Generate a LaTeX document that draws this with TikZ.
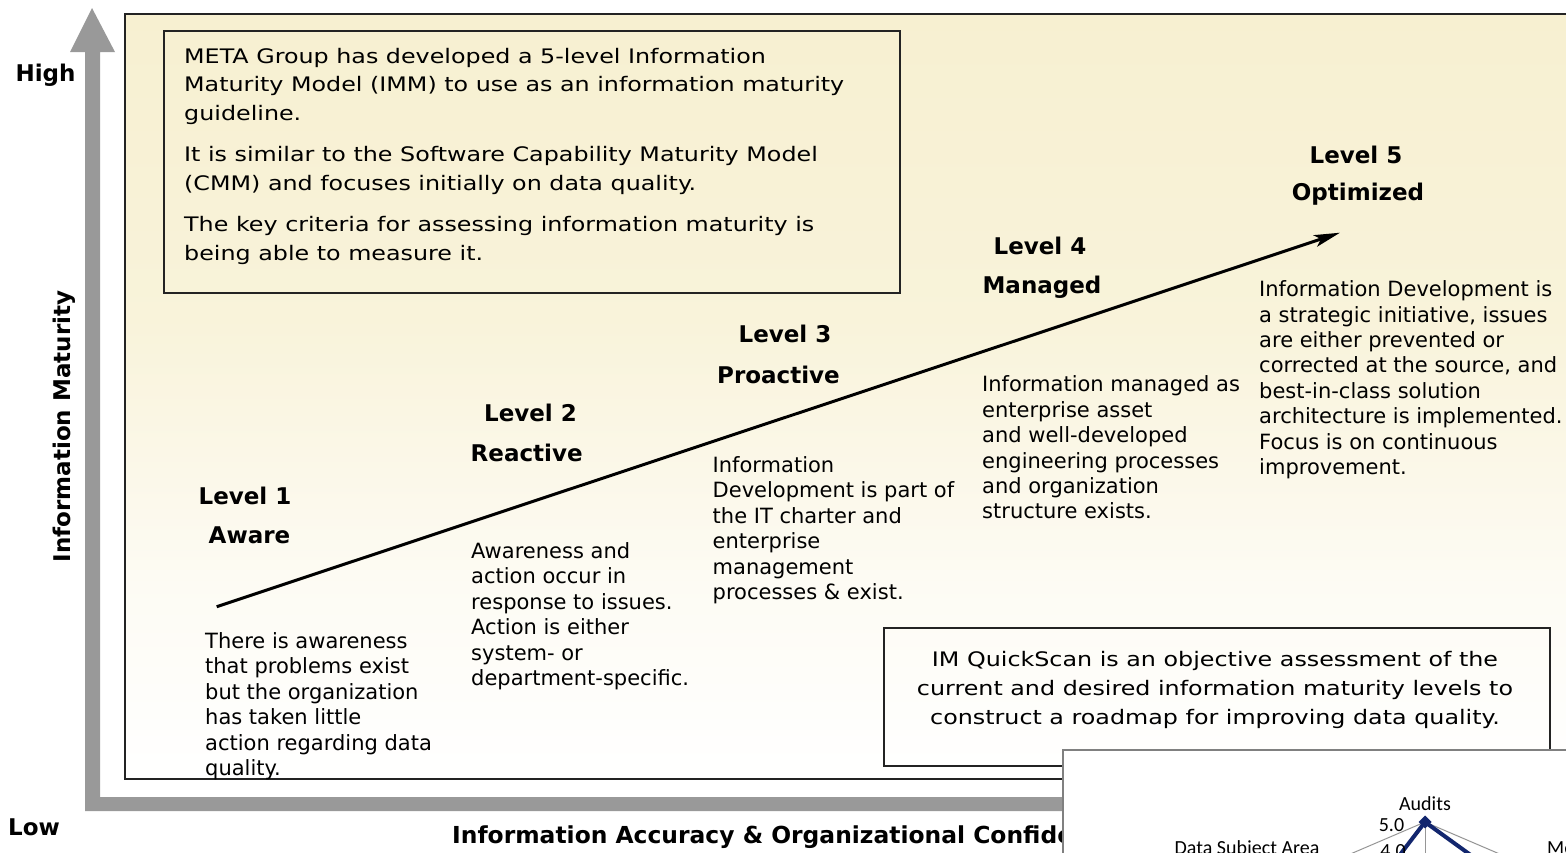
\documentclass[tikz,border=0pt]{standalone}
\usepackage{fontspec}
\setmainfont{DejaVu Sans}
\newfontfamily\widefont[FakeStretch=1.19]{DejaVu Sans}
\newfontfamily\calfont{Carlito}
\usetikzlibrary{arrows.meta}
\definecolor{axisgray}{RGB}{153,153,153}
\definecolor{cream}{RGB}{247,240,209}
\definecolor{framedark}{RGB}{35,35,35}
\definecolor{navy}{RGB}{18,38,110}
\definecolor{gridgray}{RGB}{150,150,150}
\definecolor{boxgray}{RGB}{128,128,128}
\pgfdeclareverticalshading{bgshade}{100bp}{color(0bp)=(white); color(25bp)=(white); color(38bp)=(cream!25!white); color(55bp)=(cream!80!white); color(75bp)=(cream); color(100bp)=(cream)}
\begin{document}
\begin{tikzpicture}[x=1pt,y=-1pt,
  heading/.style={font=\fontsize{23}{27}\selectfont\bfseries, anchor=base, inner sep=0},
  desc/.style={font=\fontsize{21}{25.4}\selectfont, align=left, anchor=north west, inner sep=0},
  widetext/.style={font=\widefont\fontsize{20}{28.3}\selectfont, inner sep=0},
  axislabel/.style={font=\fontsize{23}{27}\selectfont\bfseries, inner sep=0},
  radarlabel/.style={font=\calfont\fontsize{20}{24}\selectfont, anchor=base, inner sep=0},
  framebox/.style={draw=framedark, line width=1.5, anchor=north west, inner sep=0},
]
\useasboundingbox (0,0) rectangle (1566,852);
\clip (0,0) rectangle (1566,852);
\fill[white] (0,0) rectangle (1566,852);

% axes
\fill[axisgray] (92,8) -- (115,52) -- (100,52) -- (100,797) -- (1566,797) -- (1566,811)
  -- (85,811) -- (85,52) -- (70,52) -- cycle;

% main panel
\shade[shading=bgshade] (125,14) rectangle (1590,779);
\draw[framedark, line width=2] (125,14) rectangle (1590,779);

% axis labels
\node[axislabel, anchor=base] (high) at (45.5,81.7) {High};
\node[axislabel, anchor=base] (low) at (34,835) {Low};
\node[axislabel, anchor=base, rotate=90] (ylab) at (70,426.5) {Information Maturity};
\node[axislabel, anchor=base west, font=\fontsize{23.4}{27}\selectfont\bfseries] (xlab) at (452,843) {Information Accuracy \& Organizational Confidence};

% META box
\node[framebox, minimum width=736, minimum height=262] (metabox) at (163,30) {};
\node[widetext, align=left, anchor=north west] (metatext) at (184,48.1)
  {META Group has developed a 5-level Information\\
   Maturity Model (IMM) to use as an information maturity\\
   guideline.\\[13.4pt]
   It is similar to the Software Capability Maturity Model\\
   (CMM) and focuses initially on data quality.\\[13.4pt]
   The key criteria for assessing information maturity is\\
   being able to measure it.};

% maturity arrow
\coordinate (arrstart) at (216.7,606.7);
\coordinate (arrend) at (1340,232.7);
\draw[line width=3, -{Stealth[length=26,width=12,inset=6]}] (arrstart) -- (arrend);

% level headings
\node[heading] (l1t) at (245,504) {Level 1};
\node[heading] (l1n) at (249.5,543) {Aware};
\node[heading] (l2t) at (530.5,421.7) {Level 2};
\node[heading] (l2n) at (526.7,461) {Reactive};
\node[heading] (l3t) at (785,342.7) {Level 3};
\node[heading] (l3n) at (778.5,383) {Proactive};
\node[heading] (l4t) at (1040,254) {Level 4};
\node[heading] (l4n) at (1042,293) {Managed};
\node[heading] (l5t) at (1356,163) {Level 5};
\node[heading] (l5n) at (1358,200) {Optimized};

% level descriptions
\node[desc] (l1d) at (205,632.3)
  {There is awareness\\that problems exist\\but the organization\\has taken little\\action regarding data\\quality.};
\node[desc] (l2d) at (471,542.3)
  {Awareness and\\action occur in\\response to issues.\\Action is either\\system- or\\department-specific.};
\node[desc] (l3d) at (712.5,456.3)
  {Information\\Development is part of\\the IT charter and\\enterprise\\management\\processes \& exist.};
\node[desc] (l4d) at (982,375.7)
  {Information managed as\\enterprise asset\\and well-developed\\engineering processes\\and organization\\structure exists.};
\node[desc] (l5d) at (1259,280.5)
  {Information Development is\\a strategic initiative, issues\\are either prevented or\\corrected at the source, and\\best-in-class solution\\architecture is implemented.\\Focus is on continuous\\improvement.};

% QuickScan box
\node[framebox, minimum width=666, minimum height=138] (qsbox) at (883,627) {};
\node[widetext, align=center, anchor=north, font=\widefont\fontsize{20}{29}\selectfont] (qstext) at (1215,651.5)
  {IM QuickScan is an objective assessment of the\\
   current and desired information maturity levels to\\
   construct a roadmap for improving data quality.};

% radar chart inset
\node[draw=boxgray, line width=2, fill=white, anchor=north west, inner sep=0,
      minimum width=540, minimum height=130] (radarbox) at (1062,749) {};
\coordinate (rtop) at (1425,822);
\coordinate (gridl) at (1348,855);
\coordinate (gridr) at (1502,855);
\coordinate (gridc) at (1425,856);
\coordinate (bluel) at (1399,856);
\coordinate (bluer) at (1472,856);
\draw[gridgray, line width=1] (gridl) -- (rtop) -- (gridr);
\draw[gridgray, line width=1] (rtop) -- (gridc);
\draw[navy, line width=4, line join=miter] (bluel) -- (rtop) -- (bluer);
\fill[navy] (1425,815.5) -- (1431.5,822) -- (1425,828.5) -- (1418.5,822) -- cycle;
\node[radarlabel] (audits) at (1425,810.7) {Audits};
\node[radarlabel] (five) at (1391.5,831) {5.0};
\node[radarlabel] (dsa) at (1247,854.5) {Data Subject Area};
\node[radarlabel] (four) at (1393,857.5) {4.0};
\node[radarlabel, anchor=base west] (me) at (1547,854.5) {Me};
\end{tikzpicture}
\end{document}
